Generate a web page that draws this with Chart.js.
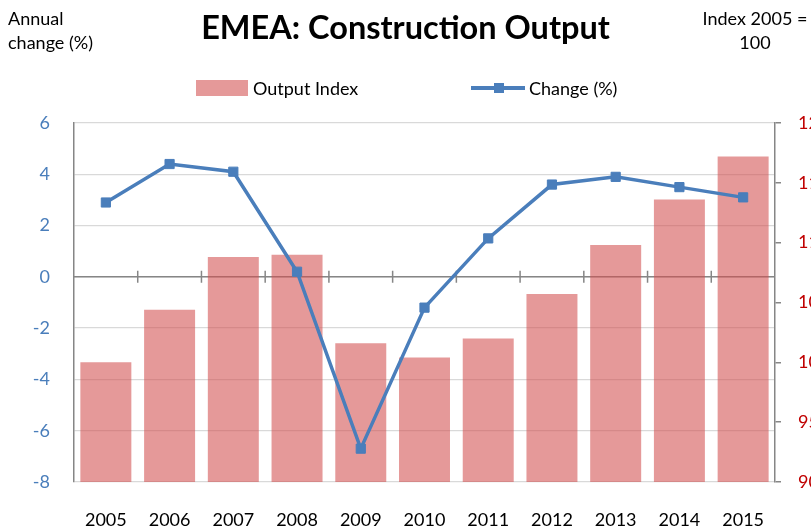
<!DOCTYPE html>
<html>
<head>
<meta charset="utf-8">
<script src="https://cdn.jsdelivr.net/npm/chart.js"></script>
<style>
html, body { margin: 0; padding: 0; background: #fff; overflow: hidden; }
#wrap { position: relative; width: 811px; height: 529px; }
.note { position: absolute; font: 18px Lato, sans-serif; color: #000; line-height: 24px; }
.legend { position: absolute; top: 76px; font: 18px Lato, sans-serif; color: #000; line-height: 24px; }
.swatch { position: absolute; width: 52px; height: 16px; top: 4px; background: rgba(210, 80, 80, 0.58); }
.lineKey { position: absolute; width: 54px; height: 4px; top: 10px; background: #4a7ebb; }
.lineKey span { position: absolute; left: 23px; top: -3px; width: 10px; height: 10px; background: #4a7ebb; }
</style>
</head>
<body>
<div id="wrap">
  <canvas id="myChart" width="811" height="529"></canvas>
  <div class="note" style="left:8px; top:6px;">Annual<br>change (%)</div>
  <div class="note" style="left:700px; top:6px; width:110px; text-align:center;">Index 2005 =<br>100</div>
  <div class="legend" style="left:196px;"><div class="swatch"></div><span style="margin-left:57px;">Output Index</span></div>
  <div class="legend" style="left:471px;"><div class="lineKey"><span></span></div><span style="margin-left:58px;">Change (%)</span></div>
</div>
<script>
var years = ["2005", "2006", "2007", "2008", "2009", "2010", "2011", "2012", "2013", "2014", "2015"];
var outputIndex = [100, 104.4, 108.8, 109.0, 101.6, 100.4, 102.0, 105.7, 109.8, 113.6, 117.2];
var changePct = [2.9, 4.4, 4.1, 0.2, -6.7, -1.2, 1.5, 3.6, 3.9, 3.5, 3.1];

var font = "Lato, sans-serif";

// x axis crosses at zero, with tick marks between the categories
var zeroAxis = {
    id: "zeroAxis",
    beforeDatasetsDraw: function (chart) {
        var ctx = chart.ctx, area = chart.chartArea;
        var y0 = chart.scales.y.getPixelForValue(0);
        var xs = chart.scales.x;
        ctx.save();
        ctx.strokeStyle = "#868686";
        ctx.lineWidth = 1.5;
        ctx.beginPath();
        ctx.moveTo(area.left, y0);
        ctx.lineTo(area.right, y0);
        for (var i = 1; i < years.length; i++) {
            var bx = (xs.getPixelForValue(i - 1) + xs.getPixelForValue(i)) / 2;
            ctx.moveTo(bx, y0 - 6);
            ctx.lineTo(bx, y0 + 6);
        }
        ctx.stroke();
        ctx.restore();
    }
};

new Chart("myChart", {
    data: {
        labels: years,
        datasets: [{
            type: "line",
            label: "Change (%)",
            data: changePct,
            yAxisID: "y",
            borderColor: "#4a7ebb",
            backgroundColor: "#4a7ebb",
            borderWidth: 3.5,
            pointStyle: "rect",
            pointRadius: 6.5,
            pointBorderWidth: 1,
            tension: 0,
            order: 0
        }, {
            type: "bar",
            label: "Output Index",
            data: outputIndex,
            yAxisID: "yR",
            backgroundColor: "rgba(210, 80, 80, 0.58)",
            barPercentage: 0.8,
            categoryPercentage: 1.0,
            order: 1
        }]
    },
    options: {
        responsive: false,
        animation: false,
        layout: { padding: 0 },
        plugins: {
            legend: { display: false },
            tooltip: { enabled: false },
            title: {
                display: true,
                text: "EMEA: Construction Output",
                color: "#000",
                font: { family: font, size: 32.5, weight: "bold" },
                padding: { top: 9, bottom: 75 }
            }
        },
        scales: {
            x: {
                grid: { display: false, drawTicks: false },
                border: { display: false },
                ticks: { color: "#000", font: { family: font, size: 18 }, padding: 27 },
                afterFit: function (s) { s.height = 47; }
            },
            y: {
                position: "left",
                min: -8,
                max: 6,
                ticks: { stepSize: 2, color: "#4a7ebb", font: { family: font, size: 18 }, padding: 24 },
                grid: { color: "#d9d9d9", lineWidth: 1.3, drawTicks: false },
                border: { color: "#868686", width: 1.5 },
                afterFit: function (s) { s.width = 74; }
            },
            yR: {
                position: "right",
                min: 90,
                max: 120,
                ticks: { stepSize: 5, color: "#c00000", font: { family: font, size: 18 }, padding: 17 },
                grid: { drawOnChartArea: false, drawTicks: true, tickLength: 6, color: "#868686", lineWidth: 1.5 },
                border: { color: "#868686", width: 1.5 },
                afterFit: function (s) { s.width = 36; }
            }
        }
    },
    plugins: [zeroAxis]
});
</script>
</body>
</html>
